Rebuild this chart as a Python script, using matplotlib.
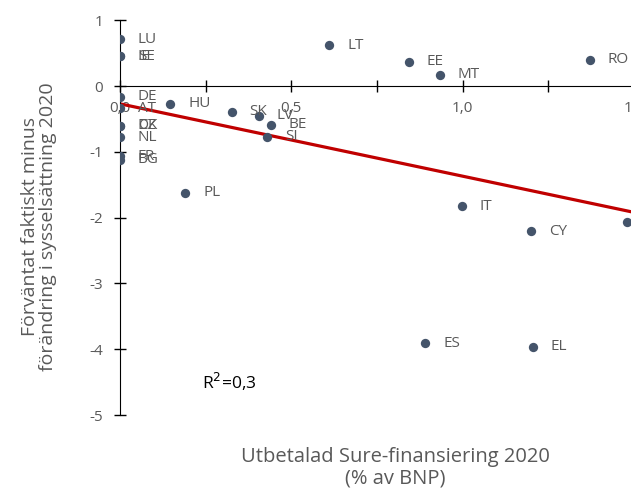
import matplotlib.pyplot as plt
import matplotlib.ticker as mticker
import numpy as np

plt.rcParams['font.family'] = ['Open Sans', 'DejaVu Sans']

# data
countries = ['LU', 'IE', 'SE', 'DE', 'AT', 'CZ', 'DK', 'NL', 'FR', 'BG',
             'HU', 'SK', 'LV', 'BE', 'SI', 'LT', 'EE', 'MT', 'RO', 'PL',
             'IT', 'CY', 'HR', 'ES', 'EL']
sure_paid = [0.0, 0.0, 0.0, 0.0, 0.0, 0.0, 0.0, 0.0, 0.0, 0.0,
             0.146, 0.326, 0.405, 0.44, 0.43, 0.61, 0.843, 0.933, 1.37, 0.19,
             0.997, 1.20, 1.48, 0.89, 1.204]
emp_gap = [0.71, 0.45, 0.45, -0.16, -0.34, -0.60, -0.60, -0.78, -1.07, -1.12,
           -0.27, -0.39, -0.45, -0.59, -0.77, 0.62, 0.37, 0.17, 0.40, -1.62,
           -1.83, -2.21, -2.07, -3.91, -3.96]

trend_x = [0.0, 1.5]
trend_y = [-0.27, -1.92]

grey = '#595959'

fig = plt.figure(figsize=(6.31, 4.93), dpi=100)
ax = fig.add_axes([0.190, 0.158, 0.815, 0.801])

ax.plot(trend_x, trend_y, color='#C00000', linewidth=2.3, zorder=2)
ax.scatter(sure_paid, emp_gap, s=45, color='#44546A', zorder=3, linewidths=0)

for c, x, y in zip(countries, sure_paid, emp_gap):
    ax.annotate(c, (x, y), xytext=(13, 0), textcoords='offset points',
                ha='left', va='center', fontsize=11, color=grey)

ax.set_xlim(0, 1.5)
ax.set_ylim(-5, 1)

ax.spines['top'].set_visible(False)
ax.spines['right'].set_visible(False)
ax.spines['bottom'].set_position(('data', 0))
ax.spines['left'].set_position(('data', 0))

ax.xaxis.set_major_locator(mticker.MultipleLocator(0.25))
ax.xaxis.set_major_formatter(mticker.FuncFormatter(
    lambda v, p: ('%.1f' % v).replace('.', ',') if abs(v / 0.5 - round(v / 0.5)) < 1e-6 else ''))
ax.yaxis.set_major_locator(mticker.MultipleLocator(1))
ax.yaxis.set_major_formatter(mticker.FuncFormatter(lambda v, p: '%d' % v))

ax.tick_params(axis='both', direction='inout', length=8, width=1, colors='black',
               labelcolor=grey, labelsize=11)
ax.tick_params(axis='x', pad=7)
ax.tick_params(axis='y', pad=8)

ax.set_facecolor('none')
fig.text(0.062, 0.54, 'Förväntat faktiskt minus\nförändring i sysselsättning 2020',
         rotation=90, ha='center', va='center', fontsize=14, color=grey,
         linespacing=1.05)
fig.text(0.626, 0.052, 'Utbetalad Sure-finansiering 2020\n(% av BNP)',
         ha='center', va='center', fontsize=14.5, color=grey, linespacing=1.1)

ax.text(0.24, -4.5, 'R$^2$=0,3', fontsize=12.5, color='black', va='center')

plt.savefig('out.png', dpi=100)
